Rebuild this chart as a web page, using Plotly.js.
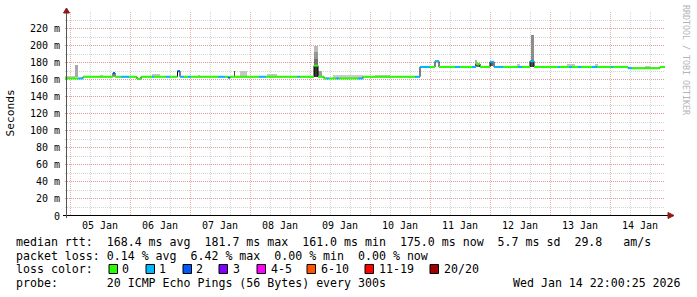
<!DOCTYPE html>
<html><head><meta charset="utf-8">
<script src="https://cdn.plot.ly/plotly-3.0.1.min.js"></script>
<style>html,body{margin:0;padding:0;background:#fff;}#chart{width:697px;height:297px;}</style>
</head><body><div id="chart"></div>
<script>
// ---- data ----
const rangeStart = '2026-01-04 22:00';
const rangeEnd = '2026-01-14 22:00';
const medianTimes = ['2026-01-04 22:00','2026-01-05 03:12','2026-01-05 05:12','2026-01-05 17:12','2026-01-05 18:00','2026-01-05 20:24','2026-01-05 23:36','2026-01-06 02:48','2026-01-06 04:24','2026-01-06 08:48','2026-01-06 09:36','2026-01-06 14:24','2026-01-06 16:00','2026-01-06 19:00','2026-01-06 20:00','2026-01-06 21:36','2026-01-06 23:12','2026-01-07 00:24','2026-01-07 11:12','2026-01-07 14:00','2026-01-07 15:12','2026-01-07 16:00','2026-01-08 03:36','2026-01-08 06:24','2026-01-08 19:00','2026-01-08 20:00','2026-01-09 01:36','2026-01-09 03:12','2026-01-09 05:36','2026-01-09 06:24','2026-01-09 07:36','2026-01-09 10:24','2026-01-09 11:36','2026-01-09 19:12','2026-01-09 21:12','2026-01-10 18:00','2026-01-10 20:00','2026-01-11 00:00','2026-01-11 02:00','2026-01-11 03:36','2026-01-11 10:00','2026-01-11 12:00','2026-01-11 16:48','2026-01-11 18:24','2026-01-11 20:00','2026-01-12 00:00','2026-01-12 01:36','2026-01-12 05:12','2026-01-12 11:12','2026-01-12 12:48','2026-01-12 16:00','2026-01-12 17:36','2026-01-13 03:12','2026-01-13 04:00','2026-01-13 07:36','2026-01-13 08:48','2026-01-13 11:12','2026-01-13 12:24','2026-01-13 16:48','2026-01-13 18:48','2026-01-14 00:24','2026-01-14 01:12','2026-01-14 07:12','2026-01-14 08:48','2026-01-14 20:00'];
const medianValues = [161.5,161.5,163.5,167.9,163.5,163.5,163.5,161.0,163.5,163.5,163.5,163.5,163.5,170.0,163.5,163.5,163.5,163.5,163.5,163.5,162.5,163.5,163.5,163.5,163.5,163.5,176.5,163.5,161.5,161.5,161.5,161.5,161.5,161.5,163.5,163.5,175.0,175.0,181.5,175.0,175.0,175.0,175.0,178.5,175.0,181.0,175.0,175.0,175.0,175.0,181.7,175.0,175.0,175.0,175.0,175.0,175.0,175.0,175.0,175.0,175.0,175.0,173.5,173.5,175.0];
const medianLoss = [0,1,0,2,0,1,0,0,0,1,0,1,0,2,1,0,1,0,1,0,2,0,1,0,1,0,0,0,0,1,0,1,0,1,0,1,1,0,1,0,1,0,1,0,0,1,1,0,1,0,1,0,1,0,1,0,1,0,1,0,1,0,1,0,0];

const smokeStart = ['2026-01-04 22:00','2026-01-05 02:00','2026-01-05 12:00','2026-01-06 08:48','2026-01-07 03:12','2026-01-07 17:24','2026-01-07 20:00','2026-01-08 06:48','2026-01-09 01:36','2026-01-09 01:36','2026-01-09 01:36','2026-01-09 01:36','2026-01-09 03:12','2026-01-09 09:12','2026-01-10 02:00','2026-01-11 02:00','2026-01-11 18:00','2026-01-11 18:48','2026-01-12 00:00','2026-01-12 10:48','2026-01-12 16:24','2026-01-12 16:00','2026-01-13 06:48','2026-01-13 18:00','2026-01-14 14:00'];
const smokeEnd   = ['2026-01-05 02:00','2026-01-05 03:00','2026-01-05 13:00','2026-01-06 12:00','2026-01-07 04:00','2026-01-07 18:00','2026-01-07 22:48','2026-01-08 10:48','2026-01-09 03:12','2026-01-09 03:12','2026-01-09 03:12','2026-01-09 03:12','2026-01-09 04:48','2026-01-09 21:12','2026-01-10 08:00','2026-01-11 03:36','2026-01-11 18:48','2026-01-11 20:00','2026-01-12 01:12','2026-01-12 12:00','2026-01-12 17:36','2026-01-12 17:36','2026-01-13 10:00','2026-01-13 19:12','2026-01-14 16:00'];
const smokeLow   = [161.5,163,164,164,164,164,164,164,163,176,184,192,163,162,164,181,176,175,176,176,182,175,176,176,174];
const smokeHigh  = [164,177,166,167,166,170,170.5,167,176,184,192,200,170,165,166,183.5,183,180,182,178,213,182,178,178,176.5];
const smokeDensity = [0.15,0.3,0.15,0.15,0.15,0.8,0.15,0.15,0.9,0.6,0.4,0.2,0.35,0.12,0.12,0.25,0.3,0.6,0.7,0.15,0.45,0.8,0.15,0.15,0.15];

const yTickVals = [0,20,40,60,80,100,120,140,160,180,200,220];
const yTickText = ['0','20 m','40 m','60 m','80 m','100 m','120 m','140 m','160 m','180 m','200 m','220 m'];

const lossLabels = ['0','1','2','3','4-5','6-10','11-19','20/20'];
const lossColors = ['#26ff00','#00b8ff','#0059ff','#7e00ff','#ff00ff','#ff5500','#ff0000','#a10000'];

const legendMedian = 'median rtt:  168.4 ms avg  181.7 ms max  161.0 ms min  175.0 ms now  5.7 ms sd  29.8   am/s';
const legendLoss = 'packet loss: 0.14 % avg  6.42 % max  0.00 % min  0.00 % now';
const legendProbe = 'probe:       20 ICMP Echo Pings (56 Bytes) every 300s';
const legendDate = 'Wed Jan 14 22:00:25 2026';
const yTitle = 'Seconds';
const sideText = 'RRDTOOL / TOBI OETIKER';

// ---- helpers ----
const T = s => Date.parse(s.replace(' ', 'T') + ':00Z');
const L = 65, R = 665, TOP = 12, BOT = 216;
const px = x => (x - L) / (R - L);
const py = y => (BOT - y) / (BOT - TOP);
const nb = s => s.replace(/ /g, '\u00a0');
const MONO = 'DejaVu Sans Mono';

// ---- traces ----
const traces = [];
// smoke
const sx = [], sw = [], sb = [], sy = [], sc = [];
for (let i = 0; i < smokeStart.length; i++) {
  const a = T(smokeStart[i]), b = T(smokeEnd[i]);
  sx.push((a + b) / 2); sw.push(b - a); sb.push(smokeLow[i]); sy.push(smokeHigh[i] - smokeLow[i]);
  const v = Math.round(225 - smokeDensity[i] * 190);
  sc.push(`rgb(${v},${v},${v})`);
}
traces.push({type:'bar', x:sx, y:sy, base:sb, width:sw, marker:{color:sc, line:{width:0}}, hoverinfo:'skip'});

// black step line
const mx = medianTimes.map(T).concat([T(rangeEnd)]);
const my = medianValues.concat([medianValues[medianValues.length - 1]]);
traces.push({type:'scatter', mode:'lines', x:mx, y:my, line:{shape:'hv', color:'#000', width:1}, hoverinfo:'skip'});

// colored segments by loss
for (let k = 0; k < lossColors.length; k++) {
  const xs = [], ys = [];
  for (let i = 0; i < medianValues.length; i++) {
    if (medianLoss[i] !== k) continue;
    xs.push(mx[i], mx[i + 1], null); ys.push(medianValues[i], medianValues[i], null);
  }
  if (xs.length) traces.push({type:'scatter', mode:'lines', x:xs, y:ys, line:{color:lossColors[k], width:2}, connectgaps:false, hoverinfo:'skip'});
}

// ---- annotations & shapes ----
const ann = [];
const txt = (x, y, s, opts) => ann.push(Object.assign({xref:'paper', yref:'paper', x:px(x), y:py(y), text:nb(s), showarrow:false, xanchor:'left', yanchor:'middle', borderpad:0, font:{family:MONO, size:11.6, color:'#000'}}, opts || {}));
txt(15, 241.5, legendMedian);
txt(15, 255.5, legendLoss);
txt(15, 269, 'loss color:');
txt(15, 283, legendProbe);
txt(512, 283, legendDate);
txt(10, 113.5, yTitle, {xanchor:'center', textangle:-90, font:{family:MONO, size:11.2, color:'#000'}});
txt(686, 60, sideText, {xanchor:'center', textangle:90, font:{family:MONO, size:8.3, color:'#b4b4b4'}});

const shapes = [];
const boxX = [109, 146, 183, 219, 257, 307, 365, 430];
const labX = [121, 158, 195, 232, 270, 320, 378, 443];
for (let k = 0; k < lossLabels.length; k++) {
  shapes.push({type:'rect', xref:'paper', yref:'paper', x0:px(boxX[k]), x1:px(boxX[k] + 8.5), y0:py(273.5), y1:py(264.5), fillcolor:lossColors[k], line:{color:'#000', width:1}});
  txt(labX[k], 269, lossLabels[k]);
}
// x axis line with arrow
shapes.push({type:'line', xref:'paper', yref:'paper', x0:px(63), x1:px(669), y0:py(215.5), y1:py(215.5), line:{color:'#000', width:1}});
shapes.push({type:'path', xref:'paper', yref:'paper', path:`M ${px(668)},${py(212.5)} L ${px(674)},${py(215.5)} L ${px(668)},${py(218.5)} Z`, fillcolor:'#8b1a1a', line:{color:'#8b1a1a', width:1}});
// y axis arrow
shapes.push({type:'line', xref:'paper', yref:'paper', x0:px(66.5), x1:px(66.5), y0:py(218), y1:py(11), line:{color:'#555', width:1}});
shapes.push({type:'path', xref:'paper', yref:'paper', path:`M ${px(63.5)},${py(13)} L ${px(66.5)},${py(8)} L ${px(69.5)},${py(13)} Z`, fillcolor:'#8b1a1a', line:{color:'#8b1a1a', width:1}});

const layout = {
  width:697, height:297, margin:{l:L, r:697 - R, t:TOP, b:297 - BOT},
  paper_bgcolor:'#fff', plot_bgcolor:'#fff', showlegend:false,
  barmode:'overlay', bargap:0,
  xaxis:{type:'date', range:[T(rangeStart), T(rangeEnd)], tick0:T('2026-01-05 00:00'), dtick:86400000,
    tickformat:'%d %b', ticklabelmode:'period', ticks:'', showline:false, zeroline:false,
    showgrid:true, gridcolor:'rgba(225,110,110,0.55)', griddash:'1px,1px', gridwidth:1,
    minor:{dtick:28800000, tick0:T('2026-01-05 00:00'), showgrid:true, gridcolor:'#d4d4d4', griddash:'1px,1px', gridwidth:1},
    tickfont:{family:MONO, size:10, color:'#000'}, ticklabelstandoff:2, fixedrange:true},
  yaxis:{range:[0, 239.5], tickmode:'array', tickvals:yTickVals, ticktext:yTickText, ticks:'', showline:false, zeroline:false,
    showgrid:true, gridcolor:'rgba(225,110,110,0.55)', griddash:'1px,1px', gridwidth:1,
    minor:{tick0:0, dtick:10, showgrid:true, gridcolor:'#d4d4d4', griddash:'1px,1px', gridwidth:1},
    tickfont:{family:MONO, size:10, color:'#000'}, ticklabelstandoff:4, fixedrange:true},
  annotations:ann, shapes:shapes
};
Plotly.newPlot('chart', traces, layout, {staticPlot:true, displayModeBar:false});
</script></body></html>
